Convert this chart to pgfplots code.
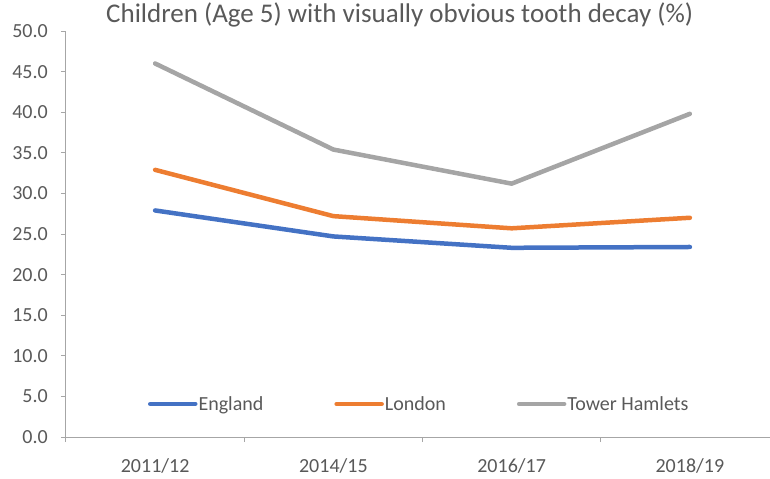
\documentclass[border=0pt]{standalone}
\usepackage{fontspec}
\setmainfont{Carlito}
\usepackage{pgfplots}
\pgfplotsset{compat=1.18}
\definecolor{cEng}{HTML}{4472C4}
\definecolor{cLon}{HTML}{ED7D31}
\definecolor{cTH}{HTML}{A5A5A5}
\definecolor{cAx}{HTML}{A6A6A6}
\definecolor{cTxt}{HTML}{595959}
\begin{document}
\begin{tikzpicture}
\begin{axis}[
  scale only axis,
  width=704bp, height=406bp,
  xmin=-0.5, xmax=3.4495,
  ymin=0, ymax=50,
  axis lines=left,
  axis line style={-, draw=cAx, line width=1bp},
  xtick={0,1,2,3},
  xticklabels={2011/12,2014/15,2016/17,2018/19},
  minor xtick={-0.5,0.5,1.5,2.5,3.5},
  major x tick style={draw=none},
  minor x tick style={draw=cAx, line width=1bp},
  ytick={0,5,...,50},
  y tick style={draw=cAx, line width=1bp},
  tick align=outside,
  major tick length=5bp,
  minor tick length=5bp,
  /pgf/number format/assume math mode=true,
  yticklabel style={/pgf/number format/.cd, fixed, fixed zerofill, precision=1, /tikz/.cd, font=\fontsize{20bp}{24bp}\selectfont, text=cTxt, inner xsep=0pt, xshift=-13bp},
  xticklabel style={font=\fontsize{20bp}{24bp}\selectfont, text=cTxt, anchor=base, yshift=-30bp},
  title={Children (Age 5) with visually obvious tooth decay (\%)},
  title style={at={(0.474,1)}, anchor=base, yshift=3bp, font=\fontsize{27bp}{31bp}\selectfont, text=cTxt},
  legend columns=3,
  legend style={at={(0.501,0.0813)}, anchor=center, draw=none, fill=none,
    font=\fontsize{20bp}{24bp}\selectfont, text=cTxt,
    nodes={inner xsep=1bp, inner ysep=1bp},
    /tikz/every even column/.append style={column sep=70bp}},
  legend image code/.code={\draw[#1] (0bp,0bp) -- (45bp,0bp);},
  every axis plot/.append style={line width=4.5bp, line cap=round, line join=round},
]
\addplot[cEng] coordinates {(0,27.9) (1,24.7) (2,23.3) (3,23.4)};
\addlegendentry{England}
\addplot[cLon] coordinates {(0,32.9) (1,27.2) (2,25.7) (3,27.0)};
\addlegendentry{London}
\addplot[cTH] coordinates {(0,46.0) (1,35.4) (2,31.2) (3,39.8)};
\addlegendentry{Tower Hamlets}
\end{axis}
\pgfresetboundingbox
\path[use as bounding box] (-66bp,-42bp) rectangle (704bp,437bp);
\end{tikzpicture}
\end{document}
